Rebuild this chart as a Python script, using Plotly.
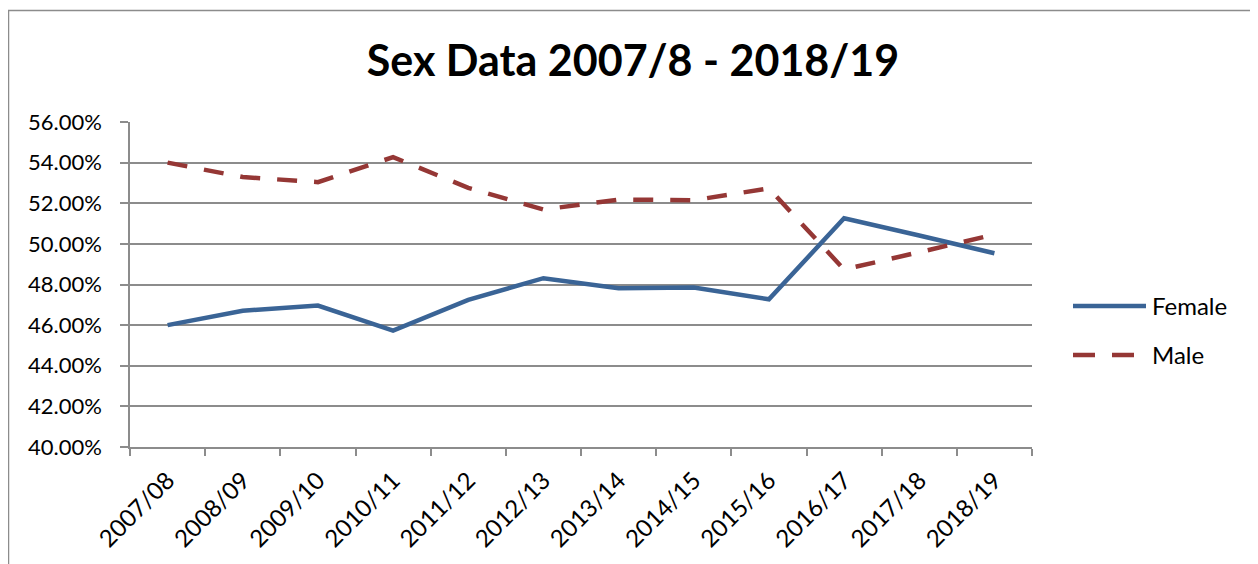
import plotly.graph_objects as go

years = ["2007/08", "2008/09", "2009/10", "2010/11", "2011/12", "2012/13",
         "2013/14", "2014/15", "2015/16", "2016/17", "2017/18", "2018/19"]
female = [0.4600, 0.4671, 0.4696, 0.4573, 0.4724, 0.4831,
          0.4782, 0.4785, 0.4727, 0.5126, 0.5041, 0.4954]
male = [0.5400, 0.5329, 0.5304, 0.5427, 0.5276, 0.5169,
        0.5218, 0.5215, 0.5273, 0.4874, 0.4959, 0.5046]
series_names = ["Female", "Male"]
title_text = "Sex Data 2007/8 - 2018/19"

# page is 1258x564; the html body adds an 8px margin, so the figure is 8px smaller
OFF = 8
W, H = 1258 - OFF, 564 - OFF
# plot area in page pixels: x 130..1032, y 122..447
PL, PR, PT, PB = 130, 1032, 122, 447
ML, MT = PL - OFF, PT - OFF
MR, MB = W - (PR - OFF), H - (PB - OFF)
PW, PH = PR - PL, PB - PT

FEMALE_C = "#3A6496"
MALE_C = "#953735"
GRID_C = "#8C8C8C"
FONT = "Lato, Open Sans, sans-serif"


def px(x):
    """page x -> paper x"""
    return (x - PL) / PW


def py(y):
    """page y -> paper y"""
    return (PB - y) / PH


fig = go.Figure()
fig.add_trace(go.Scatter(x=years, y=female, name=series_names[0], mode="lines",
                         line=dict(color=FEMALE_C, width=4.5), showlegend=False))
fig.add_trace(go.Scatter(x=years, y=male, name=series_names[1], mode="lines",
                         line=dict(color=MALE_C, width=4.5, dash="20px,17px"),
                         showlegend=False))

shapes = [
    # chart border (left, top, right)
    dict(type="line", xref="paper", yref="paper", x0=px(8), x1=px(8), y0=py(10), y1=py(600),
         line=dict(color="#8C8C8C", width=2.5)),
    dict(type="line", xref="paper", yref="paper", x0=px(8), x1=px(1256), y0=py(10.5), y1=py(10.5),
         line=dict(color="#8C8C8C", width=1.5)),
    dict(type="line", xref="paper", yref="paper", x0=px(1255), x1=px(1255), y0=py(10), y1=py(600),
         line=dict(color="#8C8C8C", width=2.5)),
    # legend samples
    dict(type="line", xref="paper", yref="paper", x0=px(1073), x1=px(1146), y0=py(306), y1=py(306),
         line=dict(color=FEMALE_C, width=4.5)),
    dict(type="line", xref="paper", yref="paper", x0=px(1073), x1=px(1137), y0=py(355), y1=py(355),
         line=dict(color=MALE_C, width=4.5, dash="22px,17px")),
]

annotations = [
    dict(text=series_names[0], xref="paper", yref="paper", x=px(1150), y=py(305),
         xanchor="left", yanchor="middle", showarrow=False,
         font=dict(family=FONT, size=24, color="#000000")),
    dict(text=series_names[1], xref="paper", yref="paper", x=px(1150), y=py(354),
         xanchor="left", yanchor="middle", showarrow=False,
         font=dict(family=FONT, size=24, color="#000000")),
]

fig.update_layout(
    width=W, height=H,
    margin=dict(l=ML, r=MR, t=MT, b=MB),
    paper_bgcolor="white", plot_bgcolor="white",
    title=dict(text=f"<b>{title_text}</b>", x=(633 - OFF) / W, xanchor="center",
               y=1 - (61 - OFF) / H, yanchor="middle", xref="container", yref="container",
               font=dict(family=FONT, size=43, color="#000000")),
    font=dict(family=FONT, size=22, color="#000000"),
    shapes=shapes, annotations=annotations,
    showlegend=False,
)

fig.update_xaxes(type="category", range=[-0.5, len(years) - 0.5], tickson="boundaries",
                 ticks="outside", ticklen=7, tickcolor=GRID_C, tickwidth=1.5,
                 showline=True, linecolor=GRID_C, linewidth=1.5, showgrid=False,
                 tickangle=-45, ticklabelstandoff=8,
                 tickfont=dict(family=FONT, size=24, color="#000000"))
fig.update_yaxes(range=[0.40, 0.56], dtick=0.02, tick0=0.40, tickformat=".2%",
                 ticks="outside", ticklen=8, tickcolor=GRID_C, tickwidth=1.5,
                 showline=True, linecolor=GRID_C, linewidth=1.5,
                 showgrid=True, gridcolor=GRID_C, gridwidth=1.5, zeroline=False,
                 ticklabelstandoff=14,
                 tickfont=dict(family=FONT, size=22, color="#000000"))

fig.write_html("out.html")
